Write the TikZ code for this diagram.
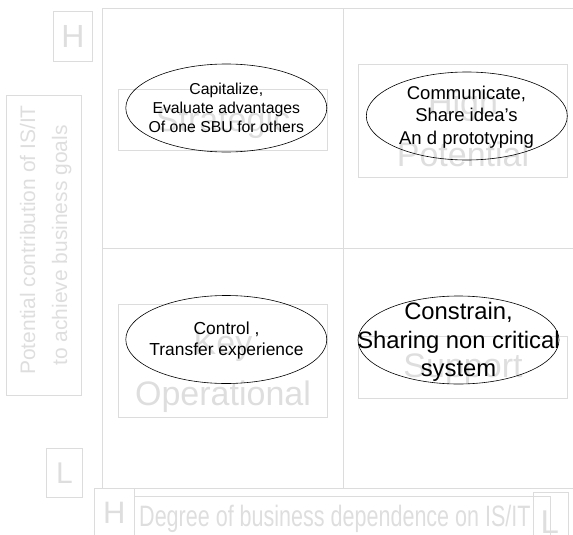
\documentclass[tikz,border=0pt]{standalone}
\usepackage{fontspec}
\setmainfont{Liberation Sans}
\usetikzlibrary{shapes.geometric}
\definecolor{faint}{RGB}{220,220,220}
\definecolor{ghost}{RGB}{222,222,222}
\newcommand{\narrowtxt}[2]{\scalebox{#1}[1]{#2}}
\begin{document}
\begin{tikzpicture}[x=1pt,y=-1pt,
  frame/.style={draw=faint, line width=0.8pt},
  ghosttext/.style={text=ghost, inner sep=0pt, anchor=base},
  quadtext/.style={ghosttext, font=\fontsize{34}{52}\selectfont},
  oval/.style={draw=black, ellipse, minimum width=201pt, minimum height=88pt, inner sep=0pt, line width=0.6pt},
  ovaltext/.style={align=center, inner sep=0pt, text=black}
]
\useasboundingbox (0,0) rectangle (573,535);

% grid
\draw[frame] (102.7,8) -- (573,8);
\draw[frame] (102.7,248.5) -- (573,248.5);
\draw[frame] (94.5,488) -- (573,488);
\draw[frame] (102.7,8) -- (102.7,488);
\draw[frame] (343,8) -- (343,488);

% axis marker boxes
\draw[frame] (53.3,11.7) rectangle (92.7,61.7);
\node[text=ghost, inner sep=0pt, font=\fontsize{32}{32}\selectfont] (hTop) at (73,36.7) {H};
\draw[frame] (46.8,448.5) rectangle (82.3,497.7);
\node[text=ghost, inner sep=0pt, font=\fontsize{30}{30}\selectfont] (lLeft) at (64.4,473.2) {L};
\draw[frame] (94.5,536) -- (94.5,488) -- (134.3,488) -- (134.3,536);
\node[text=ghost, inner sep=0pt, font=\fontsize{31}{31}\selectfont] (hBot) at (114.4,513) {H};
\draw[frame] (134.3,536) -- (134.3,496.5) -- (550.7,496.5) -- (550.7,536);
\draw[frame] (533.3,536) -- (533.3,492.7) -- (568.3,492.7) -- (568.3,536);
\node[text=ghost, inner sep=0pt, font=\fontsize{33}{33}\selectfont] (lBot) at (549.8,522) {L};

% axis titles
\draw[frame] (6.3,95.3) rectangle (81.5,395.5);
\node[ghosttext, rotate=90, font=\fontsize{21}{21}\selectfont] (yt1) at (35,240) {Potential contribution of IS/IT};
\node[ghosttext, rotate=90, font=\fontsize{21}{21}\selectfont] (yt2) at (67,245.5) {to achieve business goals};
\node[ghosttext, anchor=base west, font=\fontsize{29.5}{29.5}\selectfont] (xt) at (139,526) {\narrowtxt{0.73}{Degree of business dependence on IS/IT}};

% quadrant label boxes
\draw[frame] (118.5,89) rectangle (327.3,150.5);
\node[quadtext] (qS) at (223,131.5) {Strategic};
\draw[frame] (358.5,64.5) rectangle (567.5,177);
\node[quadtext] (qH1) at (463,114) {High};
\node[quadtext] (qH2) at (463,166.5) {Potential};
\draw[frame] (118.5,304.5) rectangle (327.3,417.5);
\node[quadtext] (qK1) at (223,354.3) {Key};
\node[quadtext] (qK2) at (223,405) {Operational};
\draw[frame] (358.5,336) rectangle (567.5,398.3);
\node[quadtext] (qSu) at (463,377.5) {Support};

% ellipses
\node[oval] (e1) at (226.3,108) {};
\node[ovaltext, font=\fontsize{15.8}{19.3}\selectfont] (t1) at (e1.center) {Capitalize,\\Evaluate advantages\\Of one SBU for others};
\node[oval] (e2) at (466.8,116) {};
\node[ovaltext, font=\fontsize{18.5}{22.5}\selectfont] (t2) at (466.5,117) {Communicate,\\Share idea’s\\An d prototyping};
\node[oval] (e3) at (226.3,339.5) {};
\node[ovaltext, font=\fontsize{17.4}{21.2}\selectfont] (t3) at (226.5,340.5) {Control ,\\Transfer experience};
\node[oval] (e4) at (458.5,340) {};
\node[ovaltext, font=\fontsize{23.8}{28.5}\selectfont] (t4) at (458.5,342) {Constrain,\\Sharing non critical\\system};
\end{tikzpicture}
\end{document}
